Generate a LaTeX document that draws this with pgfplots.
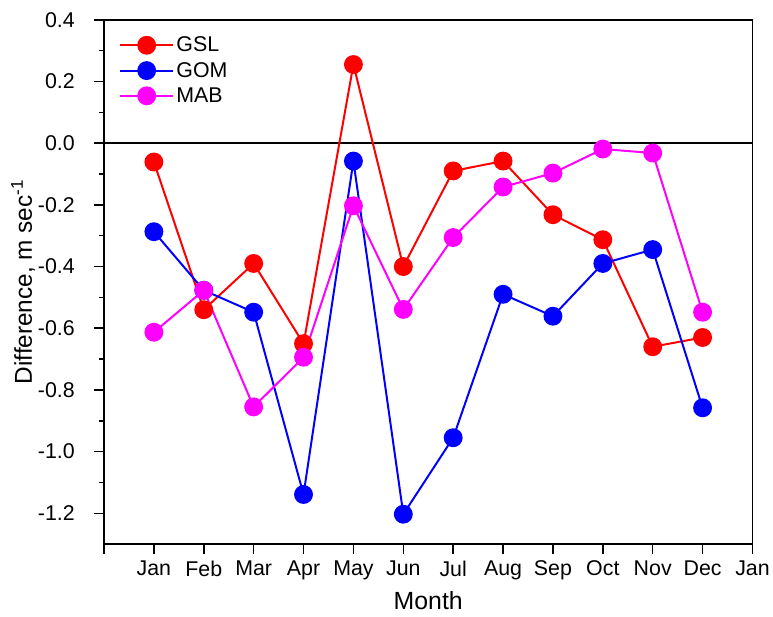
\documentclass[border=0pt]{standalone}
\usepackage{pgfplots}
\pgfplotsset{compat=1.18}
\usepackage{fontspec}
\setmainfont{Liberation Sans}
\definecolor{ored}{RGB}{255,0,0}
\definecolor{oblue}{RGB}{0,0,255}
\definecolor{omag}{RGB}{255,0,255}

\pgfplotstableread{
m   gsl     gom     mab
1   -0.061  -0.287  -0.613
2   -0.540  -0.477  -0.477
3   -0.390  -0.548  -0.855
4   -0.650  -1.139  -0.694
5    0.255  -0.058  -0.203
6   -0.400  -1.203  -0.539
7   -0.090  -0.955  -0.306
8   -0.058  -0.490  -0.142
9   -0.232  -0.561  -0.097
10  -0.313  -0.390  -0.019
11  -0.660  -0.345  -0.032
12  -0.630  -0.858  -0.548
}\diffdata

\begin{document}
\begin{tikzpicture}
\begin{axis}[
    scale only axis,
    width=653pt, height=528pt,
    xmin=0, xmax=13, ymin=-1.3, ymax=0.4,
    xtick={0,1,...,13},
    xticklabels={,Jan,Feb,Mar,Apr,May,Jun,Jul,Aug,Sep,Oct,Nov,Dec,Jan},
    ytick={-1.2,-1.0,...,0.41},
    minor y tick num=1,
    yticklabel style={xshift=-16pt, /pgf/number format/.cd, fixed, fixed zerofill, precision=1},
    /pgf/number format/assume math mode=true,
    tick pos=left, tick align=outside,
    major tick length=10pt, minor tick length=5pt,
    every tick/.style={black, line width=1.5pt},
    axis line style={line width=1.5pt},
    tick label style={font=\fontsize{21.5}{25}\selectfont},
    xticklabel style={yshift=-3pt},
    xlabel={Month},
    ylabel={Difference, m sec\textsuperscript{-1}},
    xlabel style={font=\fontsize{25}{29}\selectfont, yshift=-5pt},
    ylabel style={font=\fontsize{24.5}{28}\selectfont, yshift=-4pt},
    legend style={draw=none, fill=none, at={(0.018,0.975)}, anchor=north west,
        font=\fontsize{21.5}{25}\selectfont, row sep=5pt},
    legend cell align=left,
    legend image code/.code={
        \draw[mark repeat=2, mark phase=2] plot coordinates {(0pt,0pt) (27pt,0pt) (54pt,0pt)};
    },
]
\draw[black, line width=1.5pt] (axis cs:0,0) -- (axis cs:13,0);
\addplot[ored, line width=2pt, mark=*, mark size=8.5pt, mark options={solid, fill=ored}] table[x=m, y=gsl] {\diffdata};
\addlegendentry{GSL}
\addplot[oblue, line width=2pt, mark=*, mark size=8.5pt, mark options={solid, fill=oblue}] table[x=m, y=gom] {\diffdata};
\addlegendentry{GOM}
\addplot[omag, line width=2pt, mark=*, mark size=8.5pt, mark options={solid, fill=omag}] table[x=m, y=mab] {\diffdata};
\addlegendentry{MAB}
\end{axis}
\path (current bounding box.south west) ++(-8pt,-3pt);
\path (current bounding box.north east) ++(0pt,9pt);
\end{tikzpicture}
\end{document}
